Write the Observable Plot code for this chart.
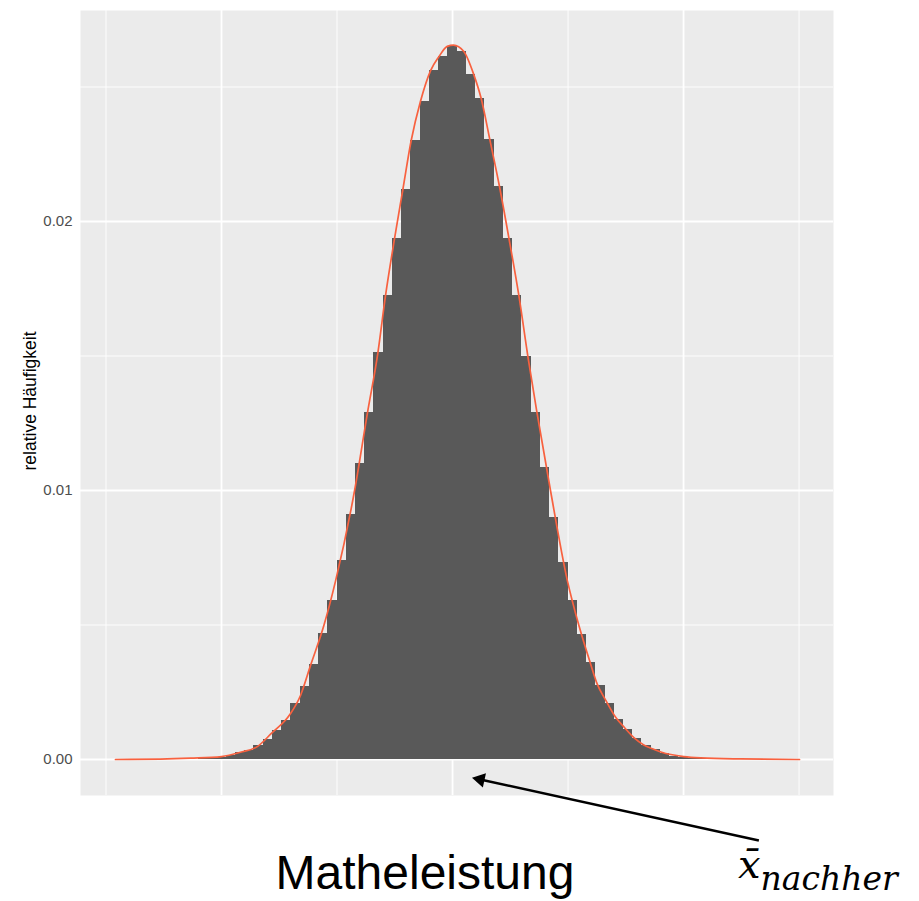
<!DOCTYPE html>
<html>
<head>
<meta charset="utf-8">
<script src="https://cdn.jsdelivr.net/npm/d3@7"></script>
<script src="https://cdn.jsdelivr.net/npm/@observablehq/plot@0.6"></script>
<style>
  html, body { margin: 0; padding: 0; background: #fff; }
  #wrap { position: relative; width: 919px; height: 901px; }
  #xbar { position: absolute; left: 738px; top: 844px; font-family: "DejaVu Serif", serif; font-style: italic; font-size: 40px; color: #000; white-space: nowrap; line-height: 1; }
  #xbar sub { font-size: 33px; vertical-align: -0.35em; line-height: 1; }
</style>
</head>
<body>
<div id="wrap"></div>
<script>
// Histogram bins (bin centers, width 4) and relative frequencies
const binCenters = [392,396,400,404,408,412,416,420,424,428,432,436,440,444,448,452,456,460,464,468,472,476,480,484,488,492,496,500,504,508,512,516,520,524,528,532,536,540,544,548,552,556,560,564,568,572,576,580,584,588,592,596,600,604,608];
const relFreq = [0.00003,0.00005,0.00009,0.00015,0.00025,0.00033,0.00052,0.00073,0.00108,0.00145,0.00209,0.00272,0.00353,0.00470,0.00591,0.00740,0.00911,0.01100,0.01290,0.01513,0.01725,0.01937,0.02118,0.02301,0.02446,0.02561,0.02613,0.02651,0.02632,0.02546,0.02457,0.02306,0.02131,0.01938,0.01725,0.01499,0.01290,0.01086,0.00900,0.00732,0.00591,0.00465,0.00361,0.00275,0.00209,0.00149,0.00112,0.00077,0.00052,0.00037,0.00022,0.00013,0.00007,0.00004,0.00002];
const binWidth = 4;

// Normal curve points
const curveX = [354.1,373.6,386.6,400.0,408.2,415.5,421.6,429.9,434.2,438.5,444.3,449.4,457.6,463.1,467.7,471.0,474.9,478.5,482.1,486.1,490.5,494.1,497.7,500.4,504.9,509.2,512.4,516.1,520.3,524.4,528.7,532.6,536.4,542.4,549.7,554.7,559.7,562.6,566.4,570.6,574.5,578.5,582.6,586.5,590.5,600.1,607.4,624.7,650.2];
const curveY = [0,0.000015,0.00005,0.00011,0.00027,0.00048,0.00097,0.00171,0.00238,0.00349,0.00498,0.00665,0.01000,0.01285,0.01513,0.01725,0.01937,0.02119,0.02301,0.02446,0.02561,0.02613,0.02651,0.02656,0.02632,0.02546,0.02457,0.02306,0.02131,0.01938,0.01725,0.01499,0.01297,0.01000,0.00665,0.00498,0.00357,0.00281,0.00219,0.00157,0.00118,0.00081,0.00055,0.00040,0.00027,0.00011,0.00006,0.00002,0];

const yTicks = [0, 0.01, 0.02];
const yMinor = [0.005, 0.015, 0.025];
const xMajor = [400, 500, 600];
const xMinor = [350, 450, 550, 650];

const yLabel = "relative Häufigkeit";
const xLabel = "Matheleistung";

// annotation arrow: tail, head centre, in data units
const arrowLine = [{x1: 632.6, y1: -0.00301, x2: 512.0, y2: -0.000743}];
const arrowHead = [{x: 512.0, y: -0.000743}];

const bins = binCenters.map((c, i) => ({x1: c - binWidth / 2, x2: c + binWidth / 2, y: relFreq[i]}));
const curve = curveX.map((x, i) => ({x, y: curveY[i]}));

const chart = Plot.plot({
  width: 919,
  height: 901,
  marginLeft: 80,
  marginRight: 86,
  marginTop: 10,
  marginBottom: 106,
  style: {fontFamily: "'Liberation Sans', Arial, sans-serif", background: "#fff"},
  x: {domain: [338.96, 664.9], axis: null},
  y: {domain: [-0.001338, 0.027844], axis: null},
  marks: [
    Plot.frame({fill: "#EBEBEB", stroke: null}),
    Plot.ruleY(yMinor, {stroke: "#fff", strokeWidth: 0.9}),
    Plot.ruleX(xMinor, {stroke: "#fff", strokeWidth: 0.9}),
    Plot.ruleY(yTicks, {stroke: "#fff", strokeWidth: 1.8}),
    Plot.ruleX(xMajor, {stroke: "#fff", strokeWidth: 1.8}),
    Plot.rectY(bins, {x1: "x1", x2: "x2", y: "y", fill: "#595959", inset: 0, shapeRendering: "crispEdges"}),
    Plot.line(curve, {x: "x", y: "y", stroke: "#F8613F", strokeWidth: 1.7, curve: "monotone-x"}),
    Plot.axisY(yTicks, {tickFormat: d3.format(".2f"), tickSize: 0, tickPadding: 8, fontSize: 15, color: "#4D4D4D", label: null}),
    Plot.text([yLabel], {frameAnchor: "left", rotate: -90, textAnchor: "middle", dx: -50, dy: -2, fontSize: 17.5, fill: "#000"}),
    Plot.text([xLabel], {frameAnchor: "bottom", dx: -32, dy: 93, lineAnchor: "bottom", fontSize: 48, fill: "#000"}),
    Plot.link(arrowLine, {x1: "x1", y1: "y1", x2: "x2", y2: "y2", stroke: "#000", strokeWidth: 2.4}),
    Plot.dot(arrowHead, {x: "x", y: "y", symbol: "triangle2", r: 7, fill: "#000", stroke: null, rotate: -77.7})
  ]
});
const wrap = document.getElementById("wrap");
wrap.appendChild(chart);
const lab = document.createElement("div");
lab.id = "xbar";
lab.innerHTML = "x̄<sub>nachher</sub>";
wrap.appendChild(lab);
</script>
</body>
</html>
